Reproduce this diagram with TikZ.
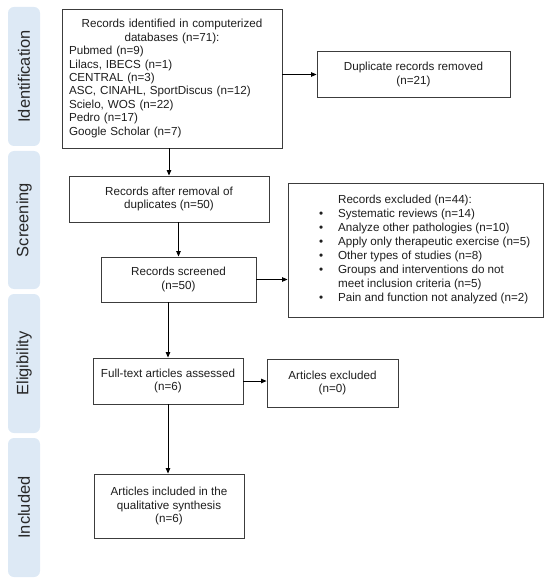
\documentclass[tikz,border=0pt]{standalone}
\usepackage{fontspec}
\setmainfont{Liberation Sans}
\usetikzlibrary{arrows.meta}
\definecolor{bandblue}{RGB}{221,233,245}
\definecolor{boxline}{RGB}{60,60,60}
\definecolor{txt}{RGB}{30,30,30}
\definecolor{bandtxt}{RGB}{40,40,40}
\tikzset{
  band/.style={fill=bandblue, draw=none, rounded corners=6bp},
  bandlabel/.style={rotate=90, text=bandtxt, font=\fontsize{16.5}{18}\selectfont, inner sep=0pt},
  box/.style={draw=boxline, line width=0.9bp, fill=white, text=txt, inner sep=0pt,
    font=\fontsize{11.7}{13.5}\selectfont},
  flow/.style={draw=black, line width=0.8bp, -{Triangle[length=5.5bp,width=4.5bp]}},
}
\begin{document}
\begin{tikzpicture}[x=1bp,y=-1bp]
\useasboundingbox (0,0) rectangle (550,584);
% bands
\filldraw[band] (8,7) rectangle (40,146);
\filldraw[band] (8,151) rectangle (40,289);
\filldraw[band] (8,294) rectangle (40,433);
\filldraw[band] (8,438) rectangle (40,577);
\node[bandlabel] (lid) at (24,76.5) {Identification};
\node[bandlabel] (lsc) at (24,220) {Screening};
\node[bandlabel] (lel) at (24,363.5) {Eligibility};
\node[bandlabel] (lin) at (24,507.5) {Included};
% boxes
\node[box, minimum width=220bp, minimum height=139bp, text width=210bp, align=left] (id) at (172,78.5)
 {\centering Records identified in computerized\\databases (n=71):\par
  \raggedright\hspace*{2bp}Pubmed (n=9)\\\hspace*{2bp}Lilacs, IBECS (n=1)\\\hspace*{2bp}CENTRAL (n=3)\\\hspace*{2bp}ASC, CINAHL, SportDiscus (n=12)\\\hspace*{2bp}Scielo, WOS (n=22)\\\hspace*{2bp}Pedro (n=17)\\\hspace*{2bp}Google Scholar (n=7)};
\node[box, minimum width=193bp, minimum height=46bp, align=center] (dup) at (413.5,74.5)
 {Duplicate records removed\\(n=21)};
\node[box, minimum width=200bp, minimum height=46bp, align=center] (rem) at (169,199)
 {Records after removal of\\duplicates (n=50)};
\node[box, minimum width=155bp, minimum height=45bp, align=center] (scr) at (178.5,279.5)
 {Records screened\\(n=50)};
\node[box, minimum width=255bp, minimum height=134bp, font=\fontsize{11.7}{14}\selectfont] (excl) at (415.5,250)
 {\makebox[255bp][l]{\hspace{31bp}\begin{tabular}{@{}c@{\hspace{15bp}}l@{}}
  & Records excluded (n=44):\\
  \textbullet & Systematic reviews (n=14)\\
  \textbullet & Analyze other pathologies (n=10)\\
  \textbullet & Apply only therapeutic exercise (n=5)\\
  \textbullet & Other types of studies (n=8)\\
  \textbullet & Groups and interventions do not\\
  & meet inclusion criteria (n=5)\\
  \textbullet & Pain and function not analyzed (n=2)
  \end{tabular}}};
\node[box, minimum width=150bp, minimum height=46bp, align=center] (full) at (168,381)
 {Full-text articles assessed\\(n=6)};
\node[box, minimum width=131bp, minimum height=48bp, align=center] (artex) at (332.5,383)
 {Articles excluded\\(n=0)};
\node[box, minimum width=150bp, minimum height=64bp, align=center] (incl) at (169,506)
 {Articles included in the\\qualitative synthesis\\(n=6)};
% connectors
\draw[flow] (id.east |- dup.west) -- (dup.west);
\draw[flow] (rem.north |- id.south) -- (rem.north);
\draw[flow] (scr.north |- rem.south) -- (scr.north);
\draw[flow] (scr.east) -- (scr.east -| excl.west);
\draw[flow] (full.north |- scr.south) -- (full.north);
\draw[flow] (full.east) -- (full.east -| artex.west);
\draw[flow] (full.south) -- (full.south |- incl.north);
\end{tikzpicture}
\end{document}
